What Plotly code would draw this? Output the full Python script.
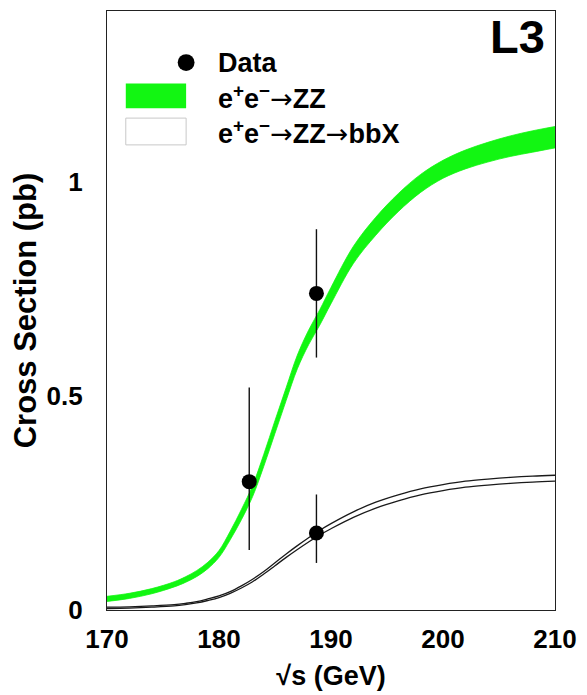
import numpy as np
import plotly.graph_objects as go

# Centre-of-mass energy grid for the predictions (GeV)
energy = [170, 172, 174, 176, 177, 178, 179, 180, 181, 182, 183, 184, 185,
          186, 187, 188, 189, 190, 192, 194, 196, 198, 200, 202, 204, 206,
          208, 210]

# e+e- -> ZZ prediction (pb): central value and half-width of the band
zz_center = [0.026, 0.033, 0.044, 0.060, 0.071, 0.085, 0.104, 0.131, 0.174,
             0.223, 0.278, 0.350, 0.428, 0.505, 0.580, 0.637, 0.684, 0.735,
             0.830, 0.897, 0.952, 0.997, 1.030, 1.053, 1.070, 1.084, 1.095,
             1.105]
zz_halfwidth = [0.006, 0.006, 0.006, 0.006, 0.0065, 0.007, 0.0075, 0.008,
                0.010, 0.012, 0.013, 0.014, 0.015, 0.015, 0.016, 0.017, 0.018,
                0.019, 0.020, 0.021, 0.021, 0.021, 0.021, 0.022, 0.023, 0.024,
                0.025, 0.025]

# e+e- -> ZZ -> bbX prediction (pb)
bbx_center = [0.005, 0.006, 0.008, 0.011, 0.014, 0.018, 0.024, 0.031, 0.041,
              0.054, 0.069, 0.087, 0.107, 0.127, 0.146, 0.164, 0.181, 0.196,
              0.223, 0.245, 0.262, 0.276, 0.286, 0.294, 0.299, 0.303, 0.306,
              0.308]
bbx_halfwidth = [0.0015, 0.0015, 0.0015, 0.0015, 0.0015, 0.0015, 0.0018,
                 0.002, 0.002, 0.0025, 0.003, 0.003, 0.0035, 0.004, 0.0045,
                 0.005, 0.0055, 0.006, 0.0065, 0.007, 0.007, 0.007, 0.007,
                 0.007, 0.007, 0.007, 0.007, 0.007]

# Measurements
zz_energy = [182.7, 188.7]
zz_xsec = [0.30, 0.74]
zz_err_up = [0.22, 0.15]
zz_err_down = [0.16, 0.15]

bbx_energy = [188.7]
bbx_xsec = [0.18]
bbx_err_up = [0.09]
bbx_err_down = [0.07]

x_ticks = [170, 180, 190, 200, 210]
y_ticks = [0, 0.5, 1]
y_tick_text = ["0", "0.5", "1"]

FONT = "Liberation Sans, Arial, Helvetica, sans-serif"
GREEN = "rgb(18,246,18)"
ARROW = "<span style=\"font-family:'DejaVu Sans';font-weight:normal\">\u2192</span>"

zz_c = np.array(zz_center)
zz_h = np.array(zz_halfwidth)
bb_c = np.array(bbx_center)
bb_h = np.array(bbx_halfwidth)

fig = go.Figure()

# ZZ band
fig.add_trace(go.Scatter(x=energy, y=zz_c + zz_h, mode="lines",
                         line=dict(color=GREEN, width=0.8, shape="spline"),
                         showlegend=False, hoverinfo="skip"))
fig.add_trace(go.Scatter(x=energy, y=zz_c - zz_h, mode="lines",
                         line=dict(color=GREEN, width=0.8, shape="spline"),
                         fill="tonexty", fillcolor=GREEN, showlegend=False,
                         hoverinfo="skip"))

# ZZ -> bbX band, drawn as two edge lines
for edge in (bb_c + bb_h, bb_c - bb_h):
    fig.add_trace(go.Scatter(x=energy, y=edge, mode="lines",
                             line=dict(color="#1a1a1a", width=1.3,
                                       shape="spline"),
                             showlegend=False, hoverinfo="skip"))

# Data points
fig.add_trace(go.Scatter(
    x=zz_energy, y=zz_xsec, mode="markers",
    marker=dict(color="black", size=15),
    error_y=dict(type="data", symmetric=False, array=zz_err_up,
                 arrayminus=zz_err_down, color="#111", thickness=1.4, width=0),
    showlegend=False))
fig.add_trace(go.Scatter(
    x=bbx_energy, y=bbx_xsec, mode="markers",
    marker=dict(color="black", size=15),
    error_y=dict(type="data", symmetric=False, array=bbx_err_up,
                 arrayminus=bbx_err_down, color="#111", thickness=1.4, width=0),
    showlegend=False))

# Plot-area geometry (pixels) for placing the legend block
L, R, T, B = 107, 560, 10, 614


def px(x):
    return (x - L) / (R - L)


def py(y):
    return (B - y) / (B - T)


shapes = [
    dict(type="circle", xref="paper", yref="paper",
         x0=px(178.5), x1=px(195.5), y0=py(70.5), y1=py(53.5),
         fillcolor="black", line=dict(color="black", width=0)),
    dict(type="rect", xref="paper", yref="paper",
         x0=px(126), x1=px(187), y0=py(108), y1=py(83),
         fillcolor=GREEN, line=dict(width=0)),
    dict(type="rect", xref="paper", yref="paper",
         x0=px(126), x1=px(187), y0=py(145), y1=py(118),
         fillcolor="white", line=dict(color="#c8c8c8", width=1)),
]

legend_font = dict(family=FONT, size=27, color="black")
annotations = [
    dict(text="<b>Data</b>", x=px(217), y=py(62)),
    dict(text="<b>e<sup>+</sup>e<sup>\u2212</sup></b>" + ARROW + "<b>ZZ</b>",
         x=px(217), y=py(97)),
    dict(text="<b>e<sup>+</sup>e<sup>\u2212</sup></b>" + ARROW + "<b>ZZ</b>"
         + ARROW + "<b>bbX</b>", x=px(217), y=py(132)),
]
annotations = [dict(a, xref="paper", yref="paper", xanchor="left",
                    yanchor="middle", showarrow=False, font=legend_font)
               for a in annotations]
annotations.append(dict(text="<b>L3</b>", xref="paper", yref="paper",
                        x=px(552), y=py(36), xanchor="right", yanchor="middle",
                        showarrow=False,
                        font=dict(family=FONT, size=47, color="black")))

axis_font = dict(family=FONT, size=26, color="black", weight="bold")

fig.update_layout(
    width=587, height=695,
    margin=dict(l=L, r=587 - R, t=T, b=695 - B),
    paper_bgcolor="white", plot_bgcolor="white",
    shapes=shapes, annotations=annotations,
    xaxis=dict(range=[170, 210], tickvals=x_ticks, ticks="",
               tickfont=axis_font, ticklabelstandoff=6,
               showgrid=False, zeroline=False,
               showline=True, mirror=True, linecolor="#222", linewidth=1.3,
               title=dict(text="\u221as (GeV)", standoff=12,
                          font=dict(family=FONT, size=27, color="black",
                                    weight="bold"))),
    yaxis=dict(range=[0, 1.4], tickvals=y_ticks, ticktext=y_tick_text,
               ticks="", tickfont=axis_font, ticklabelstandoff=18,
               showgrid=False, zeroline=False,
               showline=True, mirror=True, linecolor="#222", linewidth=1.3,
               title=dict(text="Cross Section (pb)", standoff=0,
                          font=dict(family=FONT, size=31, color="black",
                                    weight="bold"))),
)

fig.write_html("out.html")
